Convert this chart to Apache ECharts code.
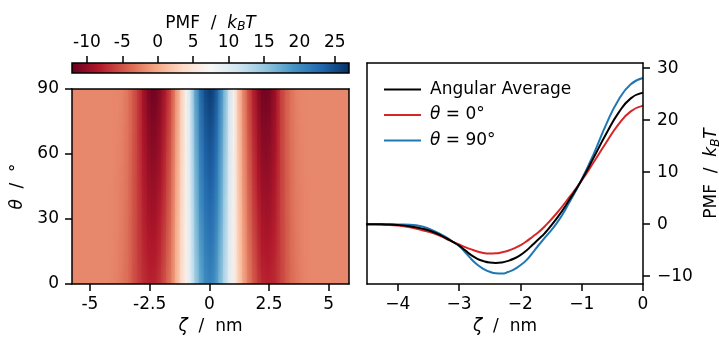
<!DOCTYPE html>
<html>
<head>
<meta charset="utf-8">
<script src="https://cdn.jsdelivr.net/npm/echarts@6/dist/echarts.min.js"></script>
<style>html,body{margin:0;padding:0;background:#fff}#main{width:719px;height:338px}</style>
</head>
<body>
<div id="main"></div>
<script>
var FONT = 'DejaVu Sans';
var FS = 17;
var STRIPS = 10; // sub-strips per map cell for smooth shading along theta

// colour bar
var cbarRange = [-12.1, 27.0];
var cbarTicks = [-10, -5, 0, 5, 10, 15, 20, 25];
var rdbu = ['#67001f','#b2182b','#d6604d','#f4a582','#fddbc7','#f7f7f7','#d1e5f0','#92c5de','#4393c3','#2166ac','#053061'];

// 2d map: zeta nodes (nm), theta rows (deg), pmf per row (kBT)
var mapZeta = [-6.0,-4.4,-4.2,-4.0,-3.8,-3.6,-3.4,-3.2,-3.0,-2.8,-2.6,-2.4,-2.2,-2.0,-1.8,-1.6,-1.4,-1.2,-1.0,-0.8,-0.6,-0.4,-0.2,
               0,0.2,0.4,0.6,0.8,1.0,1.2,1.4,1.6,1.8,2.0,2.2,2.4,2.6,2.8,3.0,3.2,3.4,3.6,3.8,4.0,4.2,4.4,6.0];
var mapTheta = [0, 15, 30, 45, 60, 75, 90];
var map0  = [-2.0,-2.0,-2.1,-2.3,-2.6,-3.2,-3.8,-4.9,-5.9,-6.9,-7.5,-7.7,-7.3,-6.1,-4.4,-2.4,0.2,3.2,6.4,10.0,13.7,17.2,19.7,
             20.8,19.7,17.2,13.7,10.0,6.4,3.2,0.2,-2.4,-4.4,-6.1,-7.3,-7.7,-7.5,-6.9,-5.9,-4.9,-3.8,-3.2,-2.6,-2.3,-2.1,-2.0,-2.0];
var map15 = [-2.0,-2.0,-2.1,-2.2,-2.5,-3.0,-3.7,-4.8,-6.0,-7.2,-8.0,-8.3,-8.0,-6.7,-4.9,-2.8,-0.1,3.0,6.4,10.3,14.3,18.0,20.6,
             21.7,20.6,18.0,14.3,10.3,6.4,3.0,-0.1,-2.8,-4.9,-6.7,-8.0,-8.3,-8.0,-7.2,-6.0,-4.8,-3.7,-3.0,-2.5,-2.2,-2.1,-2.0,-2.0];
var map30 = [-2.0,-2.0,-2.1,-2.2,-2.4,-2.9,-3.7,-4.8,-6.0,-7.5,-8.5,-9.0,-8.6,-7.3,-5.5,-3.2,-0.4,2.9,6.5,10.5,14.9,18.8,21.4,
             22.6,21.4,18.8,14.9,10.5,6.5,2.9,-0.4,-3.2,-5.5,-7.3,-8.6,-9.0,-8.5,-7.5,-6.0,-4.8,-3.7,-2.9,-2.4,-2.2,-2.1,-2.0,-2.0];
var map45 = [-2.0,-2.0,-2.1,-2.2,-2.4,-2.8,-3.6,-4.7,-6.1,-7.8,-9.1,-9.6,-9.3,-8.0,-6.0,-3.6,-0.8,2.7,6.5,10.8,15.5,19.6,22.3,
             23.5,22.3,19.6,15.5,10.8,6.5,2.7,-0.8,-3.6,-6.0,-8.0,-9.3,-9.6,-9.1,-7.8,-6.1,-4.7,-3.6,-2.8,-2.4,-2.2,-2.1,-2.0,-2.0];
var map60 = [-2.0,-2.0,-2.0,-2.1,-2.3,-2.7,-3.5,-4.7,-6.1,-8.1,-9.6,-10.2,-10.0,-8.6,-6.5,-4.0,-1.1,2.5,6.5,11.1,16.0,20.3,23.2,
             24.3,23.2,20.3,16.0,11.1,6.5,2.5,-1.1,-4.0,-6.5,-8.6,-10.0,-10.2,-9.6,-8.1,-6.1,-4.7,-3.5,-2.7,-2.3,-2.1,-2.0,-2.0,-2.0];
var map75 = [-2.0,-2.0,-2.0,-2.1,-2.2,-2.6,-3.4,-4.6,-6.2,-8.4,-10.1,-10.8,-10.6,-9.2,-7.1,-4.4,-1.4,2.4,6.6,11.3,16.6,21.1,24.0,
             25.2,24.0,21.1,16.6,11.3,6.6,2.4,-1.4,-4.4,-7.1,-9.2,-10.6,-10.8,-10.1,-8.4,-6.2,-4.6,-3.4,-2.6,-2.2,-2.1,-2.0,-2.0,-2.0];
var map90 = [-2.0,-2.0,-2.0,-2.1,-2.1,-2.5,-3.4,-4.6,-6.2,-8.7,-10.6,-11.5,-11.3,-9.8,-7.6,-4.8,-1.7,2.2,6.6,11.6,17.2,21.9,24.9,
             26.1,24.9,21.9,17.2,11.6,6.6,2.2,-1.7,-4.8,-7.6,-9.8,-11.3,-11.5,-10.6,-8.7,-6.2,-4.6,-3.4,-2.5,-2.1,-2.1,-2.0,-2.0,-2.0];
var mapRows = [map0, map15, map30, map45, map60, map75, map90];

// 1d profiles
var lineZeta = [-4.6,-4.4,-4.2,-4.0,-3.8,-3.6,-3.4,-3.2,-3.1,-3.0,-2.9,-2.8,-2.7,-2.6,-2.5,-2.4,-2.3,-2.2,-2.1,-2.0,
                -1.9,-1.8,-1.7,-1.6,-1.4,-1.2,-1.0,-0.8,-0.6,-0.4,-0.2,0];
var pmfAvg     = [0,0,-0.05,-0.15,-0.4,-0.85,-1.6,-2.75,-3.4,-4.1,-5.0,-5.95,-6.65,-7.1,-7.38,-7.46,-7.35,-7.05,-6.6,-5.95,
                  -5.05,-3.95,-2.85,-1.7,1.2,4.7,8.5,12.9,17.4,21.4,24.2,25.3];
var pmfTheta0  = [0,0,-0.1,-0.25,-0.6,-1.15,-1.8,-2.85,-3.4,-3.9,-4.4,-4.85,-5.25,-5.55,-5.65,-5.6,-5.4,-5.1,-4.65,-4.05,
                  -3.3,-2.4,-1.5,-0.4,2.2,5.2,8.4,12.0,15.7,19.2,21.7,22.8];
var pmfTheta90 = [0,0,0,-0.05,-0.1,-0.45,-1.35,-2.6,-3.4,-4.2,-5.4,-6.7,-7.8,-8.6,-9.15,-9.45,-9.5,-9.2,-8.7,-7.9,
                  -6.9,-5.5,-4.0,-2.6,0.3,4.2,8.6,13.6,19.2,23.9,26.9,28.1];

function cmap(v) {
  var t = (v - cbarRange[0]) / (cbarRange[1] - cbarRange[0]);
  t = Math.max(0, Math.min(1, t));
  return echarts.color.lerp(t, rdbu);
}

// one item per map cell: zeta span, theta span, corner values
var cells = [];
for (var r = 0; r < mapRows.length - 1; r++) {
  for (var i = 0; i < mapZeta.length - 1; i++) {
    cells.push([mapZeta[i], mapZeta[i + 1], mapTheta[r], mapTheta[r + 1],
      mapRows[r][i], mapRows[r][i + 1], mapRows[r + 1][i], mapRows[r + 1][i + 1]]);
  }
}

function lineData(ys) {
  return lineZeta.map(function (z, i) { return [z, ys[i]]; });
}

var rich = {
  n: {fontFamily: FONT, fontSize: FS, color: '#000'},
  i: {fontFamily: FONT, fontSize: FS, fontStyle: 'italic', color: '#000'},
  s: {fontFamily: FONT, fontSize: 12, fontStyle: 'italic', color: '#000', padding: [8, 0, 0, 0]}
};
var pmfName = '{n|PMF  /  }{i|k}{s|B}{i|T}';
var txt = {fontFamily: FONT, fontSize: FS, color: '#000'};
var lineW = {onZero: false, lineStyle: {color: '#000', width: 1.5}};
var tickW = {show: true, inside: false, length: 7, lineStyle: {color: '#000', width: 1.5}};
var bare = {axisLine: {show: true, onZero: false, lineStyle: {color: '#000', width: 1.5}}, axisTick: {show: false}, axisLabel: {show: false}, splitLine: {show: false}, z: 10};
var minus = function (v) { return String(v).replace('-', '\u2212'); };

var chart = echarts.init(document.getElementById('main'), null, {renderer: 'canvas'});
chart.setOption({
  animation: false,
  backgroundColor: '#fff',
  grid: [
    {left: 72, top: 89, width: 277, height: 195, outerBoundsMode: 'none', containLabel: false},
    {left: 72, top: 63, width: 277, height: 10, outerBoundsMode: 'none', containLabel: false},
    {left: 367, top: 63, width: 276, height: 221, outerBoundsMode: 'none', containLabel: false}
  ],
  legend: {
    left: 379, top: 76, orient: 'vertical', itemWidth: 37, itemHeight: 2, itemGap: 8.5, icon: 'rect',
    data: ['Angular Average', 'θ = 0°', 'θ = 90°'],
    textStyle: {fontFamily: FONT, fontSize: FS, color: '#000', padding: [0, 0, 0, 4], rich: rich},
    formatter: function (name) {
      if (name === 'Angular Average') return '{n|' + name + '}';
      return '{i|θ}{n|' + name.slice(1) + '}';
    }
  },
  xAxis: [
    {
      gridIndex: 0, type: 'value', min: -5.75, max: 5.85, z: 10,
      axisLine: lineW, axisTick: Object.assign({customValues: [-5, -2.5, 0, 2.5, 5]}, tickW),
      axisLabel: Object.assign({customValues: [-5, -2.5, 0, 2.5, 5], margin: 12}, txt),
      splitLine: {show: false},
      name: '{i|ζ}{n|  /  nm}', nameLocation: 'middle', nameGap: 34, nameTextStyle: {rich: rich}
    },
    Object.assign({gridIndex: 0, type: 'value', min: -5.75, max: 5.85, position: 'top'}, bare),
    {
      gridIndex: 1, type: 'value', min: cbarRange[0], max: cbarRange[1], position: 'top', z: 10,
      axisLine: {show: false, onZero: false}, axisTick: Object.assign({customValues: cbarTicks}, tickW),
      axisLabel: Object.assign({customValues: cbarTicks, margin: 12}, txt),
      splitLine: {show: false},
      name: pmfName, nameLocation: 'middle', nameGap: 29, nameTextStyle: {rich: rich}
    },
    {
      gridIndex: 2, type: 'value', min: -4.5, max: 0, z: 10,
      axisLine: lineW, axisTick: Object.assign({customValues: [-4, -3, -2, -1, 0]}, tickW),
      axisLabel: Object.assign({customValues: [-4, -3, -2, -1, 0], margin: 12, formatter: minus}, txt),
      splitLine: {show: false},
      name: '{i|ζ}{n|  /  nm}', nameLocation: 'middle', nameGap: 34, nameTextStyle: {rich: rich}
    },
    Object.assign({gridIndex: 2, type: 'value', min: -4.5, max: 0, position: 'top'}, bare)
  ],
  yAxis: [
    {
      gridIndex: 0, type: 'value', min: 0, max: 90, interval: 30, z: 10,
      axisLine: lineW, axisTick: tickW, axisLabel: Object.assign({margin: 13}, txt),
      splitLine: {show: false},
      name: '{i|θ}{n|  /  °}', nameLocation: 'middle', nameRotate: 90, nameGap: 46, nameTextStyle: {rich: rich}
    },
    Object.assign({gridIndex: 0, type: 'value', min: 0, max: 90, position: 'right'}, bare),
    {gridIndex: 1, type: 'value', min: 0, max: 1, show: false},
    {
      gridIndex: 2, type: 'value', min: -11.5, max: 31, position: 'right', z: 10,
      axisLine: lineW, axisTick: Object.assign({customValues: [-10, 0, 10, 20, 30]}, tickW),
      axisLabel: Object.assign({customValues: [-10, 0, 10, 20, 30], margin: 14, formatter: minus}, txt),
      splitLine: {show: false},
      name: pmfName, nameLocation: 'middle', nameRotate: 90, nameGap: 59, nameTextStyle: {rich: rich}
    },
    Object.assign({gridIndex: 2, type: 'value', min: -11.5, max: 31, position: 'left'}, bare)
  ],
  series: [
    {
      type: 'custom', xAxisIndex: 0, yAxisIndex: 0, data: cells, silent: true,
      encode: {x: [0, 1], y: [2, 3]},
      renderItem: function (params, api) {
        var z0 = api.value(0), z1 = api.value(1), t0 = api.value(2), t1 = api.value(3);
        var a = api.value(4), b = api.value(5), c = api.value(6), d = api.value(7);
        var cs = params.coordSys;
        var clip = {x: cs.x, y: cs.y, width: cs.width, height: cs.height};
        var kids = [];
        for (var k = 0; k < STRIPS; k++) {
          var fm = (k + 0.5) / STRIPS;
          var p0 = api.coord([z0, t0 + (t1 - t0) * (k + 1) / STRIPS]);
          var p1 = api.coord([z1, t0 + (t1 - t0) * k / STRIPS]);
          var x0 = Math.floor(p0[0]), y0 = Math.floor(p0[1]);
          var shape = echarts.graphic.clipRectByRect(
            {x: x0, y: y0, width: Math.ceil(p1[0]) - x0 + 1, height: Math.ceil(p1[1]) - y0 + 1}, clip);
          if (!shape) continue;
          kids.push({
            type: 'rect', shape: shape,
            style: {fill: new echarts.graphic.LinearGradient(0, 0, 1, 0, [
              {offset: 0, color: cmap(a + (c - a) * fm)}, {offset: 1, color: cmap(b + (d - b) * fm)}])}
          });
        }
        return {type: 'group', children: kids};
      }
    },
    {
      type: 'custom', xAxisIndex: 2, yAxisIndex: 2, data: [[cbarRange[0], cbarRange[1]]], silent: true,
      encode: {x: [0, 1]},
      renderItem: function (params, api) {
        var p0 = api.coord([api.value(0), 1]);
        var p1 = api.coord([api.value(1), 0]);
        return {
          type: 'rect', shape: {x: p0[0], y: p0[1], width: p1[0] - p0[0], height: p1[1] - p0[1]},
          style: {
            fill: new echarts.graphic.LinearGradient(0, 0, 1, 0, rdbu.map(function (c, k) {
              return {offset: k / (rdbu.length - 1), color: c};
            })),
            stroke: '#000', lineWidth: 1.5
          }
        };
      }
    },
    {name: 'Angular Average', type: 'line', xAxisIndex: 3, yAxisIndex: 3, data: lineData(pmfAvg),
     smooth: true, symbol: 'none', lineStyle: {color: '#000000', width: 2}, itemStyle: {color: '#000000'}, z: 4},
    {name: 'θ = 0°', type: 'line', xAxisIndex: 3, yAxisIndex: 3, data: lineData(pmfTheta0),
     smooth: true, symbol: 'none', lineStyle: {color: '#d62728', width: 2}, itemStyle: {color: '#d62728'}, z: 3},
    {name: 'θ = 90°', type: 'line', xAxisIndex: 3, yAxisIndex: 3, data: lineData(pmfTheta90),
     smooth: true, symbol: 'none', lineStyle: {color: '#1f77b4', width: 2}, itemStyle: {color: '#1f77b4'}, z: 2}
  ]
});
</script>
</body>
</html>
